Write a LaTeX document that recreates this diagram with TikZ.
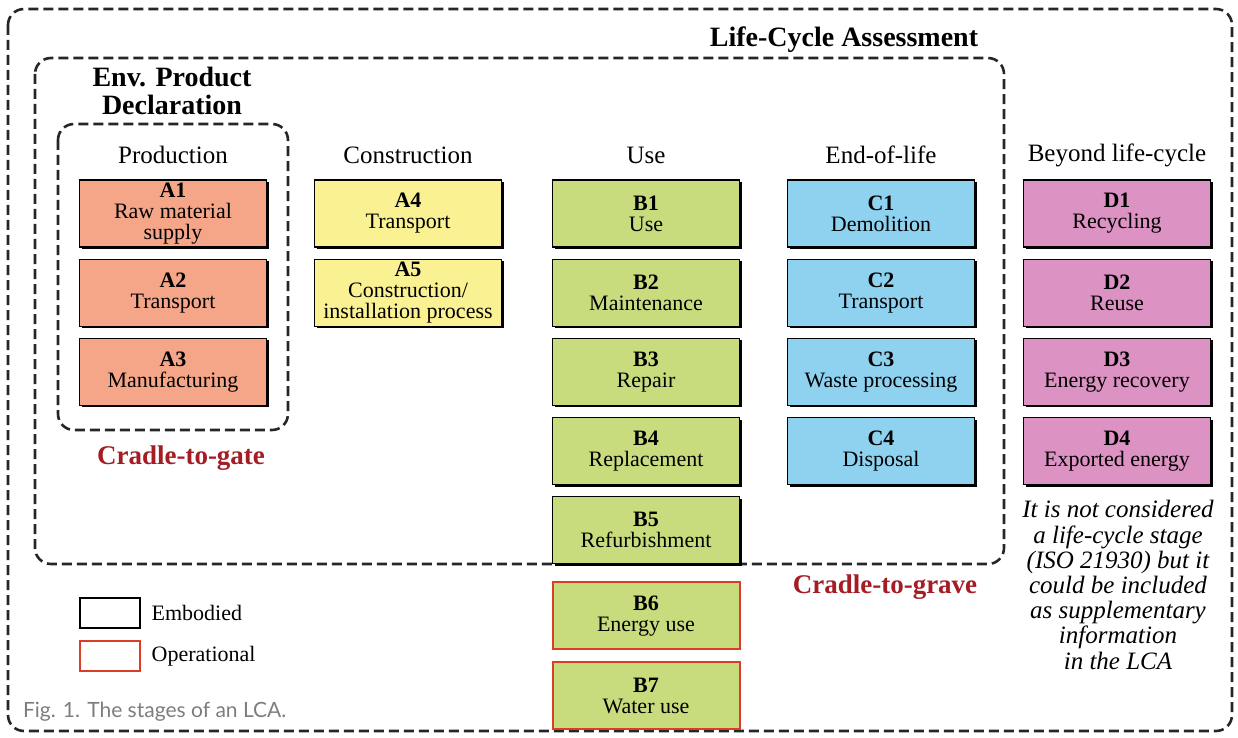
\documentclass[tikz,border=0pt]{standalone}
\usepackage{fontspec}
\setmainfont{Liberation Serif}
\newfontfamily\capfont{Lato}
\usetikzlibrary{positioning,shadows}

\definecolor{prodcol}{RGB}{245,166,136}
\definecolor{constcol}{RGB}{250,241,146}
\definecolor{usecol}{RGB}{200,220,126}
\definecolor{eolcol}{RGB}{142,210,240}
\definecolor{beyondcol}{RGB}{220,146,194}
\definecolor{cradlered}{RGB}{165,28,36}
\definecolor{opred}{RGB}{218,62,40}
\definecolor{capgray}{RGB}{125,125,125}

\begin{document}
\begin{tikzpicture}[
    x=0.5pt, y=-0.5pt,
    font=\fontsize{11}{10.5}\selectfont,
    boxbase/.style={
        line width=0.6pt,
        minimum width=93.5pt,
        minimum height=33.5pt,
        inner sep=0pt,
        align=center
    },
    embodied/.style={
        boxbase,
        draw=black,
        drop shadow={shadow xshift=1pt, shadow yshift=-1pt, opacity=1, fill=black}
    },
    operational/.style={
        boxbase,
        draw=opred,
        line width=1pt
    },
    stagehead/.style={font=\fontsize{12.5}{14}\selectfont},
    frame/.style={
        draw=black!85,
        line width=1.3pt,
        dash pattern=on 5pt off 2.5pt,
        rounded corners=8pt
    },
    cradle/.style={text=cradlered, font=\fontsize{13.5}{15}\selectfont\bfseries}
]
\useasboundingbox (0,0) rectangle (1238,738);

% Cornici tratteggiate
\draw[frame] (8,9) rectangle (1232,731);
\draw[frame] (35,58) rectangle (1004,564);
\draw[frame] (58,124) rectangle (288,430);

% Titoli
\node[font=\fontsize{14}{15}\selectfont\bfseries] (lca) at (844,40) {Life-Cycle Assessment};
\node[font=\fontsize{14}{14}\selectfont\bfseries, align=center] (epd) at (172,91) {Env. Product\\Declaration};

% Fasi
\node[stagehead] (prod) at (173,155) {Production};
\node[stagehead] (cons) at (408,155) {Construction};
\node[stagehead] (use) at (646,155) {Use};
\node[stagehead] (eol) at (881,155) {End-of-life};
\node[stagehead] (beyond) at (1117,155) {Beyond life-cycle};

% Moduli A1-A3
\node[embodied, fill=prodcol] (a1) at (173,213.5) {\textbf{A1}\\Raw material\\supply};
\node[embodied, fill=prodcol, below=5.5pt of a1] (a2) {\textbf{A2}\\Transport};
\node[embodied, fill=prodcol, below=5.5pt of a2] (a3) {\textbf{A3}\\Manufacturing};

% Moduli A4-A5
\node[embodied, fill=constcol] (a4) at (408,213.5) {\textbf{A4}\\Transport};
\node[embodied, fill=constcol, below=5.5pt of a4] (a5) {\textbf{A5}\\Construction/\\installation process};

% Moduli B1-B7
\node[embodied, fill=usecol] (b1) at (646,213.5) {\textbf{B1}\\Use};
\node[embodied, fill=usecol, below=5.5pt of b1] (b2) {\textbf{B2}\\Maintenance};
\node[embodied, fill=usecol, below=5.5pt of b2] (b3) {\textbf{B3}\\Repair};
\node[embodied, fill=usecol, below=5.5pt of b3] (b4) {\textbf{B4}\\Replacement};
\node[embodied, fill=usecol, below=5.5pt of b4] (b5) {\textbf{B5}\\Refurbishment};
\node[operational, fill=usecol, below=8.5pt of b5] (b6) {\textbf{B6}\\Energy use};
\node[operational, fill=usecol, below=5.5pt of b6] (b7) {\textbf{B7}\\Water use};

% Moduli C1-C4
\node[embodied, fill=eolcol] (c1) at (881,213.5) {\textbf{C1}\\Demolition};
\node[embodied, fill=eolcol, below=5.5pt of c1] (c2) {\textbf{C2}\\Transport};
\node[embodied, fill=eolcol, below=5.5pt of c2] (c3) {\textbf{C3}\\Waste processing};
\node[embodied, fill=eolcol, below=5.5pt of c3] (c4) {\textbf{C4}\\Disposal};

% Moduli D1-D4
\node[embodied, fill=beyondcol] (d1) at (1117,213.5) {\textbf{D1}\\Recycling};
\node[embodied, fill=beyondcol, below=5.5pt of d1] (d2) {\textbf{D2}\\Reuse};
\node[embodied, fill=beyondcol, below=5.5pt of d2] (d3) {\textbf{D3}\\Energy recovery};
\node[embodied, fill=beyondcol, below=5.5pt of d3] (d4) {\textbf{D4}\\Exported energy};

\node[font=\fontsize{12.5}{12.6}\selectfont\itshape, align=center] (note) at (1118,585)
    {It is not considered\\a life-cycle stage\\(ISO 21930) but it\\could be included\\as supplementary\\information\\in the LCA};

% Confini del sistema
\node[cradle] (gate) at (181,458) {Cradle-to-gate};
\node[cradle] (grave) at (885,587) {Cradle-to-grave};

% Legenda
\node[draw=black, line width=0.6pt, minimum width=30pt, minimum height=15pt] (emb) at (110,613) {};
\node[right=2pt of emb] (embtxt) {Embodied};
\node[draw=opred, line width=0.6pt, minimum width=30pt, minimum height=15pt] (opr) at (110,656) {};
\node[right=2pt of opr] (oprtxt) {Operational};

\node[anchor=west, text=capgray, font=\capfont\fontsize{10.5}{12}\selectfont] (caption) at (16,712) {Fig. 1. The stages of an LCA.};

\end{tikzpicture}
\end{document}
